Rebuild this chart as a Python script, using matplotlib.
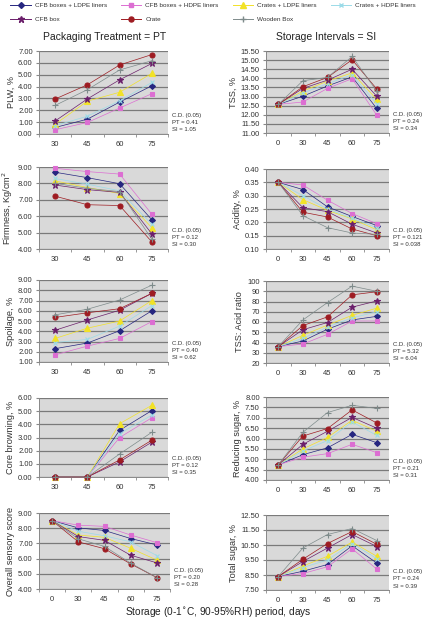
import matplotlib
matplotlib.use('Agg')
import matplotlib.pyplot as plt
from matplotlib.lines import Line2D

# ─── data ─────────────────────────────────────────────────────────────────────
series = ['CFB boxes + LDPE liners', 'CFB boxes + HDPE liners',
          'Crates + LDPE liners', 'Crates + HDPE liners',
          'CFB box', 'Crate', 'Wooden Box']
days4 = ['30', '45', '60', '75']
days5 = ['0', '30', '45', '60', '75']

# rows follow the order of `series`
plw = [[0.55, 1.25, 2.69, 4.07], [0.36, 0.97, 2.19, 3.40],
       [0.83, 2.77, 3.52, 5.12], [0.70, 1.50, 2.80, 4.35],
       [1.10, 2.96, 4.57, 5.95], [2.95, 4.15, 5.82, 6.70],
       [2.41, 3.74, 5.40, 6.18]]
tss = [[12.57, 13.02, 13.58, 14.08, 12.35], [12.57, 12.70, 13.45, 13.98, 11.98],
       [12.57, 13.30, 13.85, 14.30, 12.85], [12.57, 13.20, 13.70, 14.20, 12.60],
       [12.57, 13.45, 13.90, 14.50, 13.02], [12.57, 13.54, 14.05, 15.02, 13.42],
       [12.57, 13.87, 14.05, 15.20, 13.30]]
firmness = [[8.68, 8.35, 7.98, 5.78], [8.92, 8.72, 8.57, 6.12],
            [8.15, 7.75, 7.38, 5.30], [8.30, 7.95, 7.55, 5.50],
            [7.90, 7.62, 7.45, 4.92], [7.22, 6.70, 6.65, 4.43],
            [8.00, 7.70, 7.50, 4.60]]
acidity = [[0.35, 0.323, 0.258, 0.222, 0.188], [0.35, 0.340, 0.283, 0.233, 0.195],
           [0.35, 0.285, 0.245, 0.213, 0.172], [0.35, 0.300, 0.250, 0.215, 0.180],
           [0.35, 0.255, 0.240, 0.193, 0.160], [0.35, 0.238, 0.220, 0.175, 0.150],
           [0.35, 0.225, 0.180, 0.160, 0.155]]
spoilage = [[2.30, 2.85, 4.05, 6.00], [1.70, 2.55, 3.30, 4.95],
            [3.30, 4.30, 5.00, 7.00], [2.90, 3.20, 4.50, 6.50],
            [4.10, 5.10, 6.05, 7.70], [5.35, 5.80, 6.20, 7.70],
            [5.60, 6.15, 7.05, 8.50]]
tss_acid = [[36, 41.5, 53, 62, 65.5], [36, 38.5, 48, 61, 61],
            [36, 47, 57, 66.5, 73.5], [36, 44, 55, 64, 70],
            [36, 52.5, 59.5, 74.5, 80.5], [36, 56.5, 65, 86.5, 89.5],
            [36, 62, 79, 95, 90]]
core_browning = [[0, 0, 3.55, 5.05], [0, 0, 3.00, 4.50],
                 [0, 0, 4.05, 5.45], [0, 0, 3.30, 4.70],
                 [0, 0, 1.15, 2.65], [0, 0, 1.30, 2.80],
                 [0, 0, 1.75, 3.40]]
reducing_sugar = [[4.73, 5.22, 5.55, 6.20, 5.80], [4.73, 5.10, 5.27, 5.72, 5.32],
                  [4.73, 5.50, 6.05, 6.88, 6.35], [4.73, 5.40, 5.90, 6.80, 6.15],
                  [4.73, 5.72, 6.35, 7.02, 6.50], [4.73, 6.12, 6.48, 7.38, 6.75],
                  [4.73, 6.30, 7.25, 7.60, 7.45]]
sensory = [[8.5, 8.02, 7.85, 7.32, 6.90], [8.5, 8.20, 8.12, 7.55, 7.05],
           [8.5, 7.55, 7.40, 6.68, 5.90], [8.5, 7.80, 7.50, 7.10, 6.20],
           [8.5, 7.45, 7.20, 6.22, 5.72], [8.5, 7.10, 6.65, 5.65, 4.75],
           [8.5, 7.30, 6.80, 5.70, 4.75]]
total_sugar = [[8.4, 8.75, 9.20, 10.45, 9.30], [8.4, 8.60, 9.05, 10.25, 8.90],
               [8.4, 9.10, 9.75, 10.70, 9.75], [8.4, 9.00, 9.50, 10.60, 9.60],
               [8.4, 9.40, 10.30, 11.20, 10.40], [8.4, 9.55, 10.60, 11.40, 10.55],
               [8.4, 10.30, 11.20, 11.60, 10.80]]

# ─── styles ───────────────────────────────────────────────────────────────────
colors = ['#262680', '#dc6ed2', '#f2e227', '#9bdbe8', '#6b1f6b', '#9e1c22', '#7e8b8b']
markers = ['D', 's', '^', 'x', '*', 'o', '+']
msizes = [3.0, 3.0, 4.0, 3.2, 4.6, 3.6, 3.8]

W, H = 426, 623
fig = plt.figure(figsize=(W / 100, H / 100), dpi=100)
plt.rcParams['font.family'] = 'Liberation Sans'


def axes_px(x0, x1, y0, y1):
    return fig.add_axes([x0 / W, 1 - y1 / H, (x1 - x0) / W, (y1 - y0) / H])


# (values, x cats, ylabel, ylim, ystep, fmt, PT, SI, pixel box)
panels = [
    (plw, days4, 'PLW, %', (0, 7), 1, '%.2f', '0.41', '1.05', (39, 168, 51, 134)),
    (tss, days5, 'TSS, %', (11, 15.5), 0.5, '%.2f', '0.24', '0.34', (266, 389, 51, 133)),
    (firmness, days4, 'Firmness, Kg/cm$^2$', (4, 9), 1, '%.2f', '0.12', '0.30', (39, 168, 167, 249)),
    (acidity, days5, 'Acidity, %', (0.10, 0.40), 0.05, '%.2f', '0.121', '0.038', (266, 389, 169, 249)),
    (spoilage, days4, 'Spoilage, %', (1, 9), 1, '%.2f', '0.40', '0.62', (39, 168, 280, 362)),
    (tss_acid, days5, 'TSS: Acid ratio', (20, 100), 10, '%d', '5.32', '6.04', (266, 389, 281, 363)),
    (core_browning, days4, 'Core browning, %', (0, 6), 1, '%.2f', '0.12', '0.35', (39, 168, 398, 477)),
    (reducing_sugar, days5, 'Reducing sugar, %', (4, 8), 0.5, '%.2f', '0.21', '0.31', (266, 389, 397, 480)),
    (sensory, days5, 'Overall sensory score', (4, 9), 1, '%.2f', '0.20', '0.28', (39, 170, 513, 589)),
    (total_sugar, days5, 'Total sugar, %', (7.5, 12.5), 1, '%.2f', '0.24', '0.39', (266, 389, 515, 590)),
]

for vals, cats, ylab, ylim, ystep, fmt, pt, si, box in panels:
    ax = axes_px(*box)
    ax.set_facecolor('#d9d9d9')
    xs = list(range(len(cats)))
    for i in range(len(series)):
        ax.plot(xs, vals[i], color=colors[i], lw=0.5, marker=markers[i],
                ms=msizes[i], mec=colors[i], mfc=colors[i], mew=0.8, zorder=3,
                clip_on=False)
    ax.set_xlim(-0.5, len(cats) - 0.5)
    ax.set_ylim(*ylim)
    n = int(round((ylim[1] - ylim[0]) / ystep))
    yt = [ylim[0] + k * ystep for k in range(n + 1)]
    ax.set_yticks(yt)
    ax.set_yticklabels([fmt % v for v in yt])
    ax.yaxis.grid(True, color='#7a7a7a', lw=0.9)
    ax.set_axisbelow(True)
    ax.set_xticks(xs)
    ax.set_xticklabels(cats)
    ax.set_xticks([k - 0.5 for k in range(len(cats) + 1)], minor=True)
    ax.tick_params(axis='x', which='major', length=0, pad=5, labelsize=5.5, labelcolor='#333333')
    ax.tick_params(axis='x', which='minor', length=2.5, color='#888888')
    ax.tick_params(axis='y', length=2.5, color='#888888', labelsize=5.5,
                   labelcolor='#333333', pad=2)
    for s in ['top', 'right']:
        ax.spines[s].set_visible(False)
    for s in ['left', 'bottom']:
        ax.spines[s].set_color('#888888')
        ax.spines[s].set_linewidth(0.7)
    ax.set_ylabel(ylab, fontsize=6.6, color='#333333', labelpad=2)
    ax.text(1.03, 0.02, 'C.D. (0.05)\nPT = %s\nSI = %s' % (pt, si),
            transform=ax.transAxes, fontsize=4.3, color='#333333',
            va='bottom', ha='left', linespacing=1.6)

# column titles and footer
fig.text(105 / W, 1 - 37 / H, 'Packaging Treatment = PT', ha='center',
         va='center', fontsize=7.5, color='#222222')
fig.text(326 / W, 1 - 37 / H, 'Storage Intervals = SI', ha='center',
         va='center', fontsize=7.5, color='#222222')
fig.text(218 / W, 1 - 612 / H, 'Storage (0-1$^{\\circ}$C, 90-95%RH) period, days',
         ha='center', va='center', fontsize=7.3, color='#222222')

# legend, row-major order
handles = [Line2D([], [], color=colors[i], lw=0.7, marker=markers[i], ms=msizes[i],
                  mec=colors[i], mfc=colors[i]) for i in range(len(series))]
order = [0, 4, 1, 5, 2, 6, 3]
fig.legend([handles[i] for i in order], [series[i] for i in order],
           loc='upper center', bbox_to_anchor=(0.5, 1.005), ncol=4,
           fontsize=4.6, frameon=False, handlelength=3.2, columnspacing=2.2,
           handletextpad=0.6, labelspacing=1.3, labelcolor='#333333')

fig.savefig('out.png', dpi=100)
